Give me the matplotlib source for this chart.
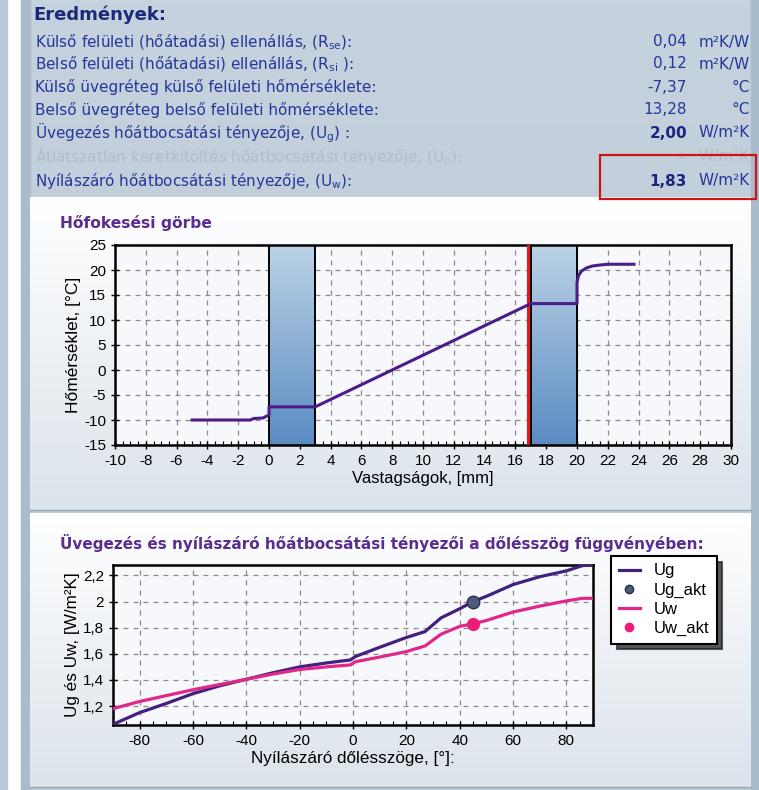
import numpy as np
import matplotlib
matplotlib.use("Agg")
import matplotlib.pyplot as plt
from matplotlib.patches import Rectangle
from matplotlib.colors import LinearSegmentedColormap
from matplotlib.ticker import MultipleLocator, FuncFormatter

plt.rcParams['font.family'] = ['Liberation Sans', 'DejaVu Sans']
plt.rcParams['mathtext.fontset'] = 'custom'
plt.rcParams['mathtext.rm'] = 'DejaVu Sans'
plt.rcParams['mathtext.it'] = 'DejaVu Sans'
plt.rcParams['axes.unicode_minus'] = False

# ---------------- data ----------------
result_labels = [
    "Külső felületi (hőátadási) ellenállás, (R$_{\\rm se}$):",
    "Belső felületi (hőátadási) ellenállás, (R$_{\\rm si}$ ):",
    "Külső üvegréteg külső felületi hőmérséklete:",
    "Belső üvegréteg belső felületi hőmérséklete:",
    "Üvegezés hőátbocsátási tényezője, (U$_{\\rm g}$) :",
    "Átlátszatlan keretkitöltés hőátbocsátási tényezője, (U$_{\\rm p}$):",
    "Nyílászáró hőátbocsátási tényezője, (U$_{\\rm w}$):",
]
result_values = ["0,04", "0,12", "-7,37", "13,28", "2,00", "--", "1,83"]
result_units = ["m²K/W", "m²K/W", "°C", "°C", "W/m²K", "W/m²K", "W/m²K"]
result_bold = [False, False, False, False, True, False, True]
result_faded = [False, False, False, False, False, True, False]

temp_x = [-5.0, -1.2, -1.0, -0.4, -0.2, 0.0, 0.0, 3.0, 17.0, 20.0, 20.0, 20.1,
          20.3, 20.6, 21.0, 21.5, 22.0, 23.7]
temp_y = [-10.0, -10.0, -9.7, -9.6, -9.3, -9.0, -7.37, -7.37, 13.28, 13.28, 17.5,
          18.9, 19.8, 20.4, 20.8, 21.0, 21.15, 21.15]
panes = [(0.0, 3.0), (17.0, 20.0)]
red_line_x = 16.8

angle = [-90, -80, -70, -60, -50, -40, -30, -20, -10, -1, 1, 10, 20, 27, 33, 40,
         45, 50, 60, 70, 80, 86, 90]
ug = [1.06, 1.15, 1.22, 1.295, 1.355, 1.405, 1.455, 1.50, 1.53, 1.553, 1.58, 1.65,
      1.725, 1.77, 1.875, 1.945, 2.00, 2.04, 2.13, 2.19, 2.235, 2.275, 2.28]
uw = [1.18, 1.235, 1.28, 1.325, 1.365, 1.405, 1.445, 1.48, 1.50, 1.515, 1.54, 1.575,
      1.617, 1.66, 1.75, 1.81, 1.83, 1.855, 1.92, 1.965, 2.005, 2.025, 2.025]
akt_angle = 45
ug_akt = 2.00
uw_akt = 1.83

W, H = 759, 790
fig = plt.figure(figsize=(W / 100, H / 100), dpi=100)
fig.patch.set_facecolor('white')

bg = fig.add_axes([0, 0, 1, 1], zorder=0)
bg.set_xlim(0, W)
bg.set_ylim(H, 0)
bg.axis('off')

def vgrad(ax, x0, x1, y0, y1, c_top, c_bot, z=0):
    cmap = LinearSegmentedColormap.from_list('g', [c_top, c_bot])
    g = np.linspace(0, 1, 256).reshape(-1, 1)
    ax.imshow(g, cmap=cmap, extent=[x0, x1, y1, y0], aspect='auto', zorder=z,
              interpolation='bilinear')

# outer strips
bg.add_patch(Rectangle((0, 0), 7, H, color='#b9c9d7', zorder=0))
vgrad(bg, 21, W, 0, H, '#c6d2dd', '#b9c8d5', z=0)
bg.add_patch(Rectangle((21, 0), 9, H, color='#a9bccb', zorder=0.5))
bg.add_patch(Rectangle((751, 0), 8, H, color='#a9bccb', zorder=0.5))
# panels
vgrad(bg, 30, 751, 197, 510, '#ffffff', '#dbe3eb', z=1)
bg.plot([30, 751], [510, 510], color='#9aa8b6', lw=1, zorder=2)
vgrad(bg, 30, 751, 513, 787, '#ffffff', '#dbe3eb', z=1)
bg.plot([30, 751], [787, 787], color='#9aa8b6', lw=1, zorder=2)
bg.set_xlim(0, W)
bg.set_ylim(H, 0)

# results text
bg.text(33, 15, "Eredmények:", fontsize=13, fontweight='bold', color='#1b2a78',
        family=['DejaVu Sans'], va='center', ha='left', zorder=3)
ys = [42, 64, 87, 110, 133, 157, 181]
for lab, val, unit, b, f, yy in zip(result_labels, result_values, result_units,
                                     result_bold, result_faded, ys):
    col = '#b2bccb' if f else '#24379a'
    bg.text(35, yy, lab, fontsize=11, color=col, va='center', ha='left',
            family=['DejaVu Sans'], zorder=3)
    bg.text(687, yy, val, fontsize=11,
            color='#b2bccb' if f else ('#1a2580' if b else '#24379a'),
            fontweight='bold' if b else 'normal', va='center', ha='right',
            family=['DejaVu Sans'], zorder=3)
    bg.text(750, yy, unit, fontsize=11, color=col, va='center', ha='right',
            family=['DejaVu Sans'], zorder=3)
bg.add_patch(Rectangle((600, 155), 156, 44, fill=False, edgecolor='#cc1414', lw=1.6, zorder=4))

# titles
bg.text(60, 223, "Hőfokesési görbe", fontsize=11.2, fontweight='bold', color='#5b2d8e',
        family=['DejaVu Sans'], va='center', ha='left', zorder=3)
bg.text(60, 543, "Üvegezés és nyílászáró hőátbocsátási tényezői a dőlésszög függvényében:",
        fontsize=11.0, fontweight='bold', color='#5b2d8e', family=['DejaVu Sans'],
        va='center', ha='left', zorder=3)

comma = FuncFormatter(lambda v, p: ('%g' % round(v, 2)).replace('.', ','))

def style_axes(ax):
    ax.set_facecolor('#f6f8fb')
    for s in ax.spines.values():
        s.set_linewidth(1.8)
        s.set_color('black')
    ax.grid(True, which='major', color='#8a8a8a', linestyle=(0, (4, 4)), lw=0.9)
    ax.tick_params(which='major', direction='inout', length=6, width=1, labelsize=11,
                   colors='black', top=False, right=False)
    ax.tick_params(which='minor', direction='in', length=3, width=0.8, top=False, right=False)
    ax.set_axisbelow(True)

# ---------------- chart 1 ----------------
ax1 = fig.add_axes([115 / W, 1 - 445 / H, 616 / W, 200 / H], zorder=5)
style_axes(ax1)
ax1.set_xlim(-10, 30)
ax1.set_ylim(-15, 25)
ax1.xaxis.set_major_locator(MultipleLocator(2))
ax1.xaxis.set_minor_locator(MultipleLocator(0.5))
ax1.yaxis.set_major_locator(MultipleLocator(5))
pane_cmap = LinearSegmentedColormap.from_list('p', ['#bcd3e7', '#5a8bc2'])
grad = np.linspace(0, 1, 256).reshape(-1, 1)
for (a, b) in panes:
    ax1.imshow(grad, cmap=pane_cmap, extent=[a, b, -15, 25], aspect='auto', zorder=2,
               interpolation='bilinear')
    ax1.axvline(a, color='black', lw=1.4, zorder=3)
    ax1.axvline(b, color='black', lw=1.4, zorder=3)
ax1.set_xlim(-10, 30)
ax1.set_ylim(-15, 25)
ax1.axvline(red_line_x, color='#e41a1a', lw=2.2, zorder=4)
ax1.plot(temp_x, temp_y, color='#4a1d88', lw=2.2, zorder=5)
ax1.set_ylabel("Hőmérséklet, [°C]", fontsize=12.5, labelpad=2)
ax1.set_xlabel("Vastagságok, [mm]", fontsize=12, labelpad=2)

# ---------------- chart 2 ----------------
ax2 = fig.add_axes([113 / W, 1 - 725 / H, 480 / W, 160 / H], zorder=5)
style_axes(ax2)
ax2.set_xlim(-90, 90)
ax2.set_ylim(1.055, 2.28)
ax2.xaxis.set_major_locator(MultipleLocator(20))
ax2.xaxis.set_minor_locator(MultipleLocator(5))
ax2.yaxis.set_major_locator(MultipleLocator(0.2))
ax2.yaxis.set_major_formatter(comma)
l1, = ax2.plot(angle, ug, color='#43207f', lw=2.3, zorder=3, label='Ug')
m1, = ax2.plot([akt_angle], [ug_akt], 'o', ms=9, color='#4d5a7c', mec='#2a2f4a', mew=1,
               zorder=5, label='Ug_akt')
l2, = ax2.plot(angle, uw, color='#e0288a', lw=2.3, zorder=3, label='Uw')
m2, = ax2.plot([akt_angle], [uw_akt], 'o', ms=8.5, color='#ee1c78', mec='#ee1c78', zorder=5,
               label='Uw_akt')
ax2.set_ylabel("Ug és Uw, [W/m²K]", fontsize=12.3, labelpad=2)
ax2.set_xlabel("Nyílászáró dőlésszöge, [°]:", fontsize=12.3, labelpad=2)

leg = fig.legend(handles=[l1, m1, l2, m2], labels=['Ug', 'Ug_akt', 'Uw', 'Uw_akt'],
                 loc='upper left', bbox_to_anchor=(611 / W, 1 - 556 / H), fontsize=12,
                 frameon=True, fancybox=False, borderaxespad=0,
                 shadow={'ox': 4, 'oy': -4, 'color': '#222222', 'alpha': 0.75},
                 framealpha=1, edgecolor='black', handlelength=1.3, borderpad=0.45,
                 labelspacing=0.25, handletextpad=0.8)
leg.get_frame().set_linewidth(1.5)
m_handles = leg.legend_handles
m_handles[1].set_markersize(6)
m_handles[3].set_markersize(6)

fig.savefig('out.png', dpi=100)
